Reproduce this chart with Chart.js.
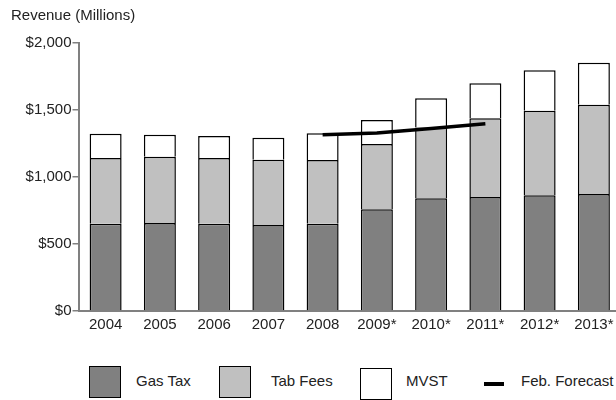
<!DOCTYPE html>
<html>
<head>
<meta charset="utf-8">
<script src="https://cdn.jsdelivr.net/npm/chart.js@4"></script>
<style>
  body { margin: 0; width: 616px; height: 400px; overflow: hidden; background: #fff;
         font-family: "Liberation Sans", Arial, sans-serif; color: #222; }
  #wrap { position: absolute; left: 0; top: 0; width: 640px; height: 350px; }
  .key { position: absolute; top: 366px; width: 32px; height: 32px; box-sizing: border-box; border: 1.5px solid #000; }
  .lbl { position: absolute; top: 372px; font-size: 15px; line-height: 18px; white-space: nowrap; }
  .dash { position: absolute; left: 484px; top: 382px; width: 20px; height: 3.5px; background: #000; }
</style>
</head>
<body>
<div id="wrap"><canvas id="revChart"></canvas></div>

<div class="key" style="left:89px; background:#808080"></div>
<div class="lbl" style="left:136px">Gas Tax</div>
<div class="key" style="left:219px; background:#c0c0c0"></div>
<div class="lbl" style="left:271px">Tab Fees</div>
<div class="key" style="left:360px; top:368px; background:#fff"></div>
<div class="lbl" style="left:406px">MVST</div>
<div class="dash"></div>
<div class="lbl" style="left:521px">Feb. Forecast</div>

<script>
const years = ['2004', '2005', '2006', '2007', '2008', '2009*', '2010*', '2011*', '2012*', '2013*'];
const gasTax = [651, 657, 651, 642, 651, 759, 841, 851, 863, 873];
const tabFees = [491, 494, 491, 487, 476, 487, 529, 587, 632, 667];
const mvst = [181, 165, 164, 164, 199, 179, 217, 261, 301, 313];
const febForecast = [null, null, null, null, 1316, 1328, 1362, 1397, null, null];
const yTickLabels = ['$0', '$500', '$1,000', '$1,500', '$2,000'];

const FONT = '"Liberation Sans", Arial, sans-serif';
const AXIS = '#808080';

function barSet(label, values, fill) {
    return {
        type: 'bar',
        label: label,
        data: values,
        backgroundColor: fill,
        borderColor: '#000',
        borderWidth: 1.5,
        categoryPercentage: 1,
        barPercentage: 0.59,
        stack: 'revenue',
        order: 1
    };
}

const ctx = document.getElementById('revChart').getContext('2d');
const revChart = new Chart(ctx, {
    data: {
        labels: years,
        datasets: [
            {
                type: 'line',
                label: 'Feb. Forecast',
                data: febForecast,
                borderColor: '#000',
                borderWidth: 3.5,
                pointRadius: 0,
                tension: 0,
                stack: 'forecast',
                order: 0
            },
            barSet('Gas Tax', gasTax, '#808080'),
            barSet('Tab Fees', tabFees, '#c0c0c0'),
            barSet('MVST', mvst, '#ffffff')
        ]
    },
    options: {
        responsive: true,
        maintainAspectRatio: false,
        animation: false,
        layout: { padding: { left: 11, right: 19, top: 0, bottom: 0 } },
        plugins: {
            legend: { display: false },
            tooltip: { enabled: false },
            title: {
                display: true,
                text: 'Revenue (Millions)',
                align: 'start',
                color: '#222',
                font: { family: FONT, size: 15, weight: 'normal' },
                padding: { top: 7, bottom: 18 }
            }
        },
        scales: {
            x: {
                stacked: true,
                grid: { display: false, drawTicks: false },
                border: { display: true, color: AXIS, width: 2 },
                ticks: {
                    color: '#222',
                    font: { family: FONT, size: 15 },
                    padding: 5,
                    maxRotation: 0,
                    autoSkip: false
                },
                afterFit: (scale) => { scale.height = 39; }
            },
            y: {
                stacked: true,
                min: 0,
                max: 2000,
                grid: { drawOnChartArea: false, drawTicks: true, tickLength: 6, color: AXIS, lineWidth: 1.5 },
                border: { display: true, color: AXIS, width: 2 },
                ticks: {
                    stepSize: 500,
                    color: '#222',
                    padding: 1,
                    font: { family: FONT, size: 15 },
                    callback: (value, i) => yTickLabels[i]
                },
                afterFit: (scale) => { scale.width = 67.5; }
            }
        }
    }
});
</script>
</body>
</html>
